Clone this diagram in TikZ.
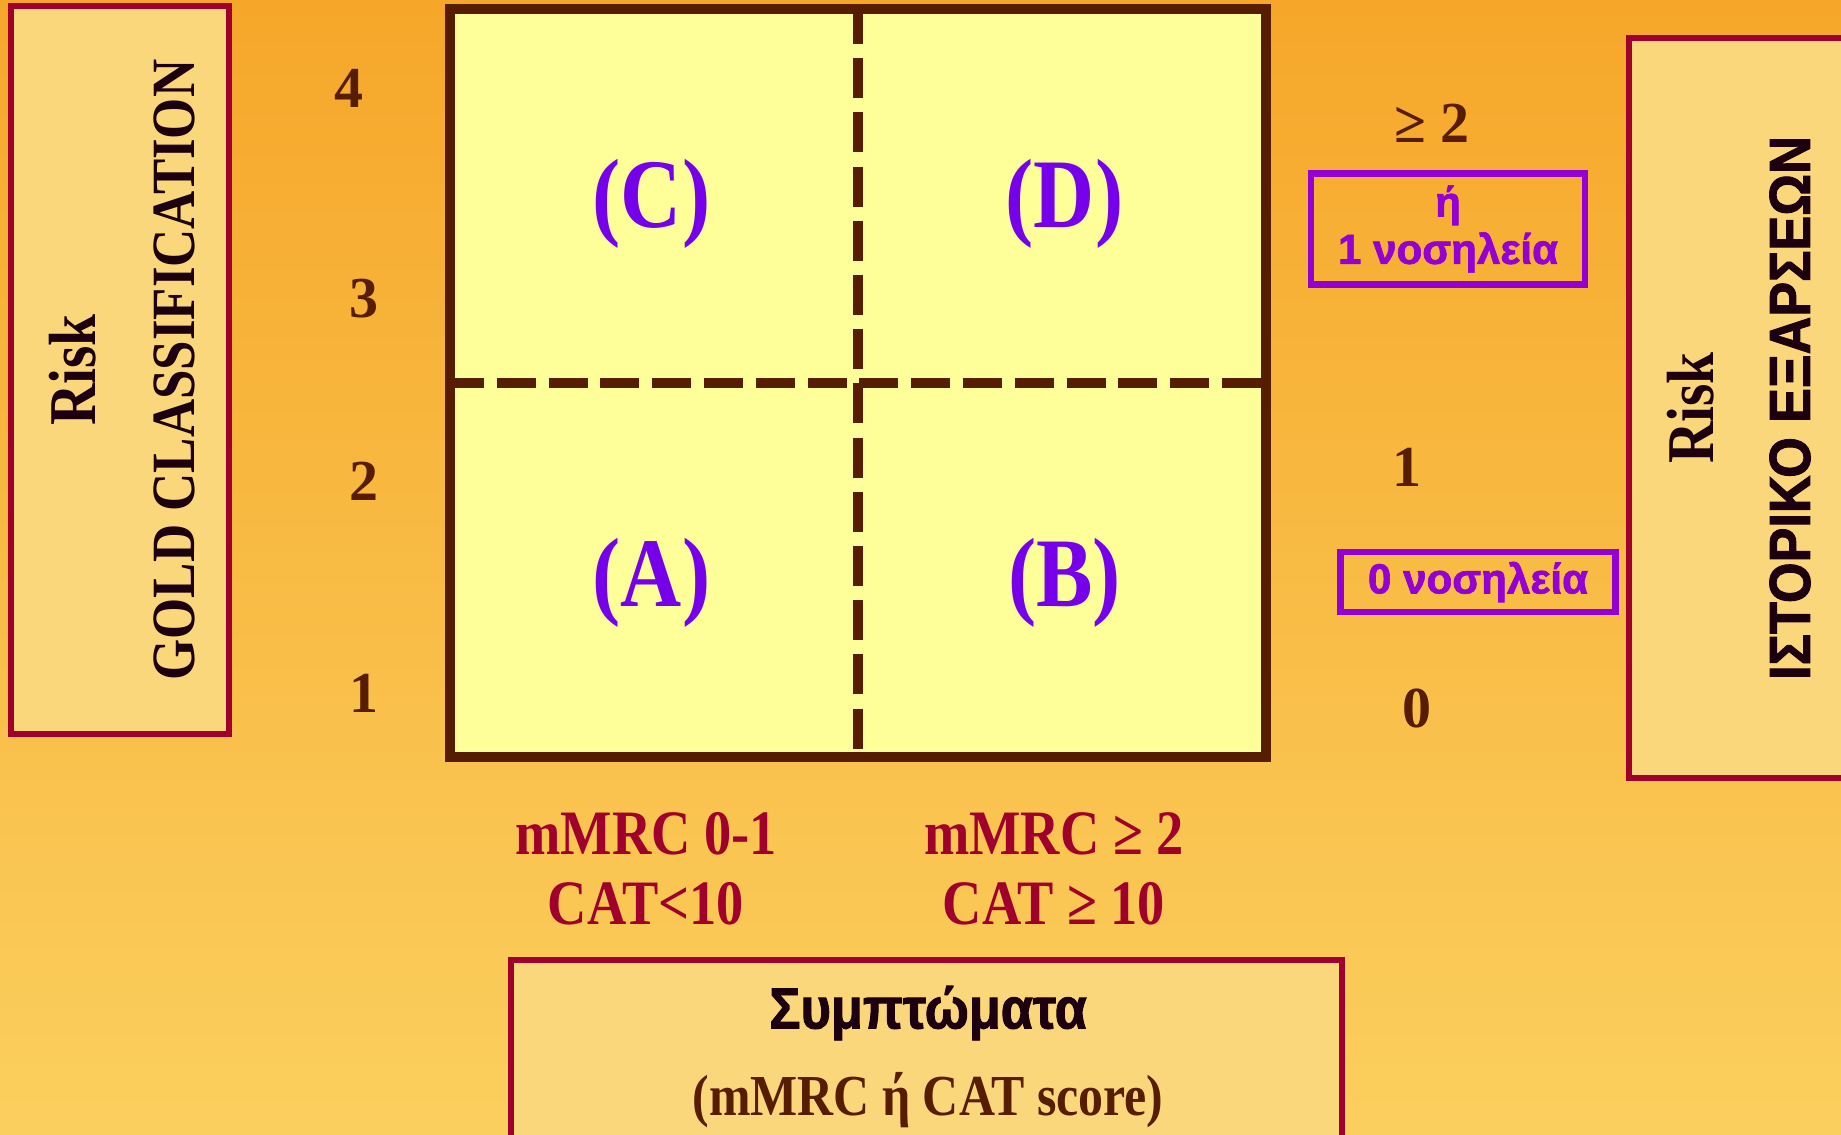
\documentclass[tikz,border=0pt]{standalone}
\usepackage{fontspec}
\setmainfont{Liberation Serif}
\setsansfont{Liberation Sans}
\newfontfamily\narrowserif[FakeStretch=0.86]{Liberation Serif}
\newfontfamily\heavysans{Liberation Sans}[FakeStretch=0.9,BoldFeatures={FakeBold=1.6}]
\newfontfamily\heavywide{Liberation Sans}[BoldFeatures={FakeBold=1.6}]
\usepackage{xcolor}
\definecolor{BgTop}{HTML}{F6A72A}
\definecolor{BgBottom}{HTML}{FBCF5E}
\definecolor{Panel}{HTML}{FBD77B}
\definecolor{Crimson}{HTML}{A0002C}
\definecolor{Cell}{HTML}{FFFF99}
\definecolor{Brown}{HTML}{561D00}
\definecolor{Violet}{HTML}{7700EA}
\definecolor{Orchid}{HTML}{9400D3}
\definecolor{Ink}{HTML}{1C0010}
\usetikzlibrary{positioning,calc}
\tikzset{
  panel/.style={draw=Crimson,fill=Panel,line width=1.7pt,inner sep=0pt},
  panelrisk/.style={rotate=90,text=Ink,font=\narrowserif\bfseries\fontsize{19}{22}\selectfont},
  paneltitle/.style={rotate=90,text=Ink,font=\narrowserif\bfseries\fontsize{17.5}{20}\selectfont},
  panelgreek/.style={rotate=90,text=Ink,font=\heavysans\bfseries\fontsize{16.5}{20}\selectfont},
  gridbox/.style={draw=Brown,fill=Cell,line width=1mm,inner sep=0pt},
  divider/.style={draw=Brown,line width=1mm},
  quad/.style={text=Violet,font=\narrowserif\bfseries\fontsize{28}{30}\selectfont},
  axisnum/.style={text=Brown,font=\bfseries\fontsize{16.5}{18}\selectfont},
  hospbox/.style={draw=Orchid,line width=1.8pt,inner sep=0pt,align=center,
    text=Orchid,font=\heavywide\bfseries\fontsize{12}{13.5}\selectfont},
  criterion/.style={text=Crimson,align=center,
    font=\narrowserif\bfseries\fontsize{18}{20}\selectfont}
}
\begin{document}
\begin{tikzpicture}[x=0.1mm,y=-0.1mm]
  \useasboundingbox (0,0) rectangle (1841,1134);
  \fill[top color=BgTop,bottom color=BgBottom] (0,0) rectangle (1841,1134);

  % side and bottom panels
  \node[panel,minimum width=21.8mm,minimum height=72.8mm] (gold) at (120,370) {};
  \node[panelrisk] (goldrisk) at (73,370) {Risk};
  \node[paneltitle] (goldtitle) at (174,370) {GOLD CLASSIFICATION};

  \node[panel,minimum width=22.3mm,minimum height=74mm] (hist) at (1740,408) {};
  \node[panelrisk] (histrisk) at (1691,408) {Risk};
  \node[panelgreek] (histtitle) at (1790,408) {ΙΣΤΟΡΙΚΟ ΕΞΑΡΣΕΩΝ};

  \node[panel,minimum width=83.1mm,minimum height=18.5mm] (sympt) at (926,1052) {};
  \node[text=Ink,font=\heavysans\bfseries\fontsize{16.5}{20}\selectfont]
    (symptname) at (928,1013) {Συμπτώματα};
  \node[text=Brown,font=\narrowserif\bfseries\fontsize{16.5}{20}\selectfont]
    (symptscore) at (928,1100) {(mMRC ή CAT score)};

  % the four groups
  \node[gridbox,minimum width=81.6mm,minimum height=74.8mm] (grid) at (858,383) {};
  \draw[divider,dash pattern=on 4mm off 1.42mm] (grid.north) -- (grid.south);
  \draw[divider,dash pattern=on 3.9mm off 1.28mm] (grid.west) -- (grid.east);
  \node[quad] (qc) at ($(grid.north west)!0.5!(grid.center)+(0,10)$) {(C)};
  \node[quad] (qd) at ($(grid.north east)!0.5!(grid.center)+(0,10)$) {(D)};
  \node[quad] (qa) at ($(grid.south west)!0.5!(grid.center)+(0,10)$) {(A)};
  \node[quad] (qb) at ($(grid.south east)!0.5!(grid.center)+(0,10)$) {(B)};

  % GOLD grades
  \node[axisnum] (g4) at (349,88) {4};
  \node[axisnum] (g3) at (364,299) {3};
  \node[axisnum] (g2) at (364,481) {2};
  \node[axisnum] (g1) at (364,693) {1};

  % exacerbations
  \node[axisnum] (ex2) at (1432,123) {≥ 2};
  \node[hospbox,minimum width=27.4mm,minimum height=11.1mm] (hosp1) at (1448,229) {ή\\1 νοσηλεία};
  \node[axisnum] (ex1) at (1407,467) {1};
  \node[hospbox,minimum width=27.5mm,minimum height=6mm] (hosp0) at (1478,582) {0 νοσηλεία};
  \node[axisnum] (ex0) at (1417,708) {0};

  % symptom thresholds
  \node[criterion] (low) at (646,869) {mMRC 0-1\\CAT<10};
  \node[criterion] (high) at (1054,869) {mMRC ≥ 2\\CAT ≥ 10};
\end{tikzpicture}
\end{document}
